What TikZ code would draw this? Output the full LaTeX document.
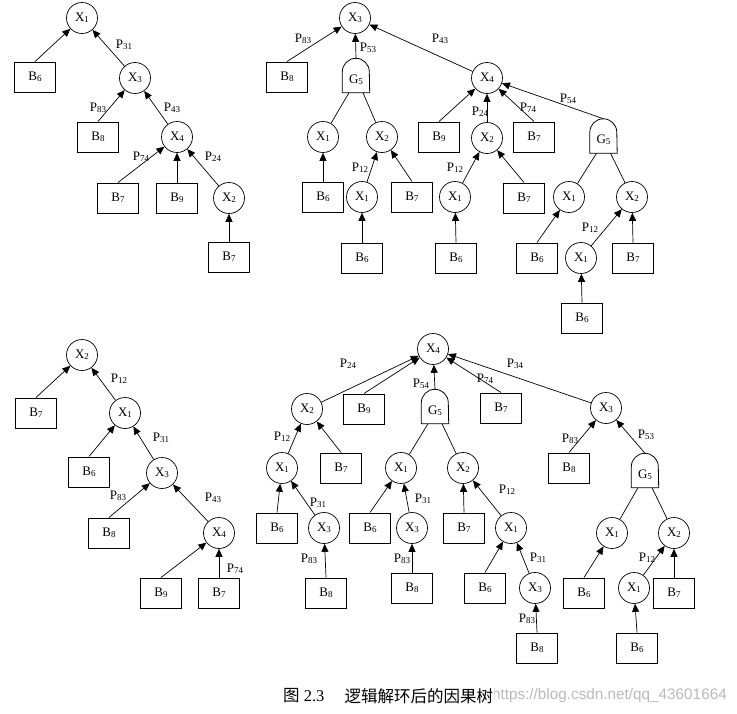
\documentclass[tikz,border=0pt]{standalone}
\usepackage{fontspec}
\setmainfont{Liberation Serif}
\newfontfamily\cjkfont{Noto Sans CJK SC}
\newfontfamily\wmfont{Liberation Sans}
\usetikzlibrary{arrows.meta}
\newcommand\sbd[1]{\raisebox{-1pt}{\fontsize{9}{9}\selectfont #1}}
\newcommand\gateoutline[1]{\draw[line width=0.8pt] (#1.south west) -- ([yshift=-13.5pt]#1.north west) arc[start angle=180,end angle=0,radius=13.5pt] -- (#1.south east) -- cycle;}
\tikzset{
  cnode/.style={circle,draw,line width=0.7pt,minimum size=31pt,inner sep=0pt,font=\fontsize{13}{13}\selectfont},
  bnode/.style={rectangle,draw,line width=1pt,minimum width=41pt,minimum height=30pt,inner sep=0pt,font=\fontsize{13}{13}\selectfont},
  gnode/.style={rectangle,minimum width=27pt,inner sep=0pt,text height=24.5pt,text depth=9.5pt,font=\fontsize{13}{13}\selectfont},
  lbl/.style={inner sep=0pt,font=\fontsize{13}{13}\selectfont},
  arr/.style={line width=0.7pt,-{Triangle[length=8pt,width=7pt]}},
  ln/.style={line width=0.7pt}
}
\begin{document}
\begin{tikzpicture}[x=1pt,y=-1pt]
\useasboundingbox (0,0) rectangle (737,713);
% ---------- Tree a (top left) ----------
\node[cnode] (aX1) at (82,18) {X\sbd{1}};
\node[bnode] (aB6) at (35,77) {B\sbd{6}};
\node[cnode] (aX3) at (135,78) {X\sbd{3}};
\node[bnode] (aB8) at (98,137) {B\sbd{8}};
\node[cnode] (aX4) at (177,137) {X\sbd{4}};
\node[bnode] (aB7) at (118,198) {B\sbd{7}};
\node[bnode] (aB9) at (177,198) {B\sbd{9}};
\node[cnode] (aX2) at (229,198) {X\sbd{2}};
\node[bnode] (aB7b) at (229,257) {B\sbd{7}};
\draw[arr] (aB6.north) -- (aX1);
\draw[arr] (aX3) -- (aX1);
\draw[arr] (aB8.north) -- (aX3);
\draw[arr] (aX4) -- (aX3);
\draw[arr] (aB7.north) -- (aX4);
\draw[arr] (aB9.north) -- (aX4);
\draw[arr] (aX2) -- (aX4);
\draw[arr] (aB7b.north) -- (aX2);
\node[lbl] (aP31) at (124,45) {P\sbd{31}};
\node[lbl] (aP83) at (98,108) {P\sbd{83}};
\node[lbl] (aP43) at (172,108) {P\sbd{43}};
\node[lbl] (aP74) at (141,157) {P\sbd{74}};
\node[lbl] (aP24) at (213,157) {P\sbd{24}};
% ---------- Tree b (top right) ----------
\node[cnode] (bX3) at (355,18) {X\sbd{3}};
\node[bnode] (bB8) at (287,77) {B\sbd{8}};
\node[gnode] (bG) at (356,75.5) {G\sbd{5}};
\gateoutline{bG}
\node[cnode] (bX4) at (487,78) {X\sbd{4}};
\node[cnode] (bX1a) at (323,137) {X\sbd{1}};
\node[cnode] (bX2a) at (382,137) {X\sbd{2}};
\node[bnode] (bB6a) at (323,197) {B\sbd{6}};
\node[cnode] (bX1b) at (362,197) {X\sbd{1}};
\node[bnode] (bB7a) at (412,197) {B\sbd{7}};
\node[bnode] (bB6b) at (362,258) {B\sbd{6}};
\node[bnode] (bB9) at (439,137) {B\sbd{9}};
\node[cnode] (bX2c) at (487,138) {X\sbd{2}};
\node[bnode] (bB7c) at (534,137) {B\sbd{7}};
\node[gnode] (bG2) at (603.5,136) {G\sbd{5}};
\gateoutline{bG2}
\node[cnode] (bX1c) at (455,197) {X\sbd{1}};
\node[bnode] (bB7d) at (524,198) {B\sbd{7}};
\node[bnode] (bB6c) at (456,258) {B\sbd{6}};
\node[cnode] (bX1d) at (569,197) {X\sbd{1}};
\node[cnode] (bX2d) at (632,197) {X\sbd{2}};
\node[bnode] (bB6d) at (537,258) {B\sbd{6}};
\node[cnode] (bX1e) at (581,258) {X\sbd{1}};
\node[bnode] (bB7e) at (633,258) {B\sbd{7}};
\node[bnode] (bB6e) at (582,318) {B\sbd{6}};
\draw[arr] (bB8.north) -- (bX3);
\draw[arr] (bG.north) -- (bX3);
\draw[arr] (bX4) -- (bX3);
\draw[ln] (bX1a) -- ([xshift=-7pt]bG.south);
\draw[ln] (bX2a) -- ([xshift=7pt]bG.south);
\draw[arr] (bB6a.north) -- (bX1a);
\draw[arr] (bX1b) -- (bX2a);
\draw[arr] (bB7a.north) -- (bX2a);
\draw[arr] (bB6b.north) -- (bX1b);
\draw[arr] (bB9.north) -- (bX4);
\draw[arr] (bX2c) -- (bX4);
\draw[arr] (bB7c.north) -- (bX4);
\draw[arr] (bG2.north) -- (bX4);
\draw[arr] (bX1c) -- (bX2c);
\draw[arr] (bB7d.north) -- (bX2c);
\draw[arr] (bB6c.north) -- (bX1c);
\draw[ln] (bX1d) -- ([xshift=-7pt]bG2.south);
\draw[ln] (bX2d) -- ([xshift=7pt]bG2.south);
\draw[arr] (bB6d.north) -- (bX1d);
\draw[arr] (bX1e) -- (bX2d);
\draw[arr] (bB7e.north) -- (bX2d);
\draw[arr] (bB6e.north) -- (bX1e);
\node[lbl] (bP83) at (303,39) {P\sbd{83}};
\node[lbl] (bP53) at (368,48) {P\sbd{53}};
\node[lbl] (bP43) at (440,39) {P\sbd{43}};
\node[lbl] (bP12a) at (360,168) {P\sbd{12}};
\node[lbl] (bP24) at (480,112) {P\sbd{24}};
\node[lbl] (bP74) at (528,108) {P\sbd{74}};
\node[lbl] (bP54) at (568,99) {P\sbd{54}};
\node[lbl] (bP12b) at (455,168) {P\sbd{12}};
\node[lbl] (bP12c) at (590,228) {P\sbd{12}};
% ---------- Tree c (bottom left) ----------
\node[cnode] (cX2) at (82,355) {X\sbd{2}};
\node[bnode] (cB7) at (36,413) {B\sbd{7}};
\node[cnode] (cX1) at (125,413) {X\sbd{1}};
\node[bnode] (cB6) at (89,472) {B\sbd{6}};
\node[cnode] (cX3) at (162,473) {X\sbd{3}};
\node[bnode] (cB8) at (109,533) {B\sbd{8}};
\node[cnode] (cX4) at (219,533) {X\sbd{4}};
\node[bnode] (cB9) at (161,593) {B\sbd{9}};
\node[bnode] (cB7b) at (219,593) {B\sbd{7}};
\draw[arr] (cB7.north) -- (cX2);
\draw[arr] (cX1) -- (cX2);
\draw[arr] (cB6.north) -- (cX1);
\draw[arr] (cX3) -- (cX1);
\draw[arr] (cB8.north) -- (cX3);
\draw[arr] (cX4) -- (cX3);
\draw[arr] (cB9.north) -- (cX4);
\draw[arr] (cB7b.north) -- (cX4);
\node[lbl] (cP12) at (119,379) {P\sbd{12}};
\node[lbl] (cP31) at (161,438) {P\sbd{31}};
\node[lbl] (cP83) at (118,496) {P\sbd{83}};
\node[lbl] (cP43) at (213,498) {P\sbd{43}};
\node[lbl] (cP74) at (235,569) {P\sbd{74}};
% ---------- Tree d (bottom right) ----------
\node[cnode] (dX4) at (433,349) {X\sbd{4}};
\node[cnode] (dX2) at (307,409) {X\sbd{2}};
\node[bnode] (dB9) at (364,409) {B\sbd{9}};
\node[gnode] (dG) at (435,406.5) {G\sbd{5}};
\gateoutline{dG}
\node[bnode] (dB7) at (501,408) {B\sbd{7}};
\node[cnode] (dX3) at (606,408) {X\sbd{3}};
\node[cnode] (dX1a) at (282,468) {X\sbd{1}};
\node[bnode] (dB7a) at (341,468) {B\sbd{7}};
\node[bnode] (dB6a) at (277,528) {B\sbd{6}};
\node[cnode] (dX3a) at (324,528) {X\sbd{3}};
\node[bnode] (dB8a) at (326,593) {B\sbd{8}};
\node[cnode] (dX1b) at (401,468) {X\sbd{1}};
\node[cnode] (dX2b) at (463,468) {X\sbd{2}};
\node[bnode] (dB6b) at (370,528) {B\sbd{6}};
\node[cnode] (dX3b) at (412,528) {X\sbd{3}};
\node[bnode] (dB8b) at (412,588) {B\sbd{8}};
\node[bnode] (dB7b) at (464,528) {B\sbd{7}};
\node[cnode] (dX1c) at (511,528) {X\sbd{1}};
\node[bnode] (dB6c) at (485,588) {B\sbd{6}};
\node[cnode] (dX3c) at (535,588) {X\sbd{3}};
\node[bnode] (dB8c) at (537,648) {B\sbd{8}};
\node[bnode] (dB8d) at (569,468) {B\sbd{8}};
\node[gnode] (dG2) at (645,470.5) {G\sbd{5}};
\gateoutline{dG2}
\node[cnode] (dX1e) at (612,533) {X\sbd{1}};
\node[cnode] (dX2e) at (674,533) {X\sbd{2}};
\node[bnode] (dB6e) at (584,593) {B\sbd{6}};
\node[cnode] (dX1f) at (634,588) {X\sbd{1}};
\node[bnode] (dB7f) at (674,593) {B\sbd{7}};
\node[bnode] (dB6f) at (637,648) {B\sbd{6}};
\draw[arr] (dX2) -- (dX4);
\draw[arr] (dB9.north) -- (dX4);
\draw[arr] (dG.north) -- (dX4);
\draw[arr] (dB7.north) -- (dX4);
\draw[arr] (dX3) -- (dX4);
\draw[arr] (dX1a) -- (dX2);
\draw[arr] (dB7a.north) -- (dX2);
\draw[arr] (dB6a.north) -- (dX1a);
\draw[arr] (dX3a) -- (dX1a);
\draw[arr] (dB8a.north) -- (dX3a);
\draw[ln] (dX1b) -- ([xshift=-7pt]dG.south);
\draw[ln] (dX2b) -- ([xshift=7pt]dG.south);
\draw[arr] (dB6b.north) -- (dX1b);
\draw[arr] (dX3b) -- (dX1b);
\draw[arr] (dB8b.north) -- (dX3b);
\draw[arr] (dB7b.north) -- (dX2b);
\draw[arr] (dX1c) -- (dX2b);
\draw[arr] (dB6c.north) -- (dX1c);
\draw[arr] (dX3c) -- (dX1c);
\draw[arr] (dB8c.north) -- (dX3c);
\draw[arr] (dB8d.north) -- (dX3);
\draw[arr] (dG2.north) -- (dX3);
\draw[ln] (dX1e) -- ([xshift=-7pt]dG2.south);
\draw[ln] (dX2e) -- ([xshift=7pt]dG2.south);
\draw[arr] (dB6e.north) -- (dX1e);
\draw[arr] (dX1f) -- (dX2e);
\draw[arr] (dB7f.north) -- (dX2e);
\draw[arr] (dB6f.north) -- (dX1f);
\node[lbl] (dP24) at (348,364) {P\sbd{24}};
\node[lbl] (dP54) at (421,384) {P\sbd{54}};
\node[lbl] (dP74) at (485,379) {P\sbd{74}};
\node[lbl] (dP34) at (515,364) {P\sbd{34}};
\node[lbl] (dP12a) at (282,437) {P\sbd{12}};
\node[lbl] (dP31a) at (318,503) {P\sbd{31}};
\node[lbl] (dP83a) at (309,559) {P\sbd{83}};
\node[lbl] (dP31b) at (423,499) {P\sbd{31}};
\node[lbl] (dP83b) at (402,559) {P\sbd{83}};
\node[lbl] (dP12b) at (507,490) {P\sbd{12}};
\node[lbl] (dP31c) at (538,558) {P\sbd{31}};
\node[lbl] (dP83c) at (527,619) {P\sbd{83}};
\node[lbl] (dP83d) at (570,439) {P\sbd{83}};
\node[lbl] (dP53) at (646,435) {P\sbd{53}};
\node[lbl] (dP12c) at (647,558) {P\sbd{12}};
% ---------- Caption ----------
\node[inner sep=0pt,anchor=east,text=black!27,font=\wmfont\fontsize{15.3}{15.3}\selectfont] (wm) at (727,696) {https://blog.csdn.net/qq\_43601664};
\node[inner sep=0pt,anchor=west,font=\fontsize{16.5}{16.5}\selectfont] (cap1) at (283,696) {{\cjkfont 图}~2.3};
\node[inner sep=0.5pt,anchor=west,fill=white,font=\cjkfont\fontsize{16.5}{16.5}\selectfont] (cap2) at (344,696) {逻辑解环后的因果树};
\end{tikzpicture}
\end{document}
